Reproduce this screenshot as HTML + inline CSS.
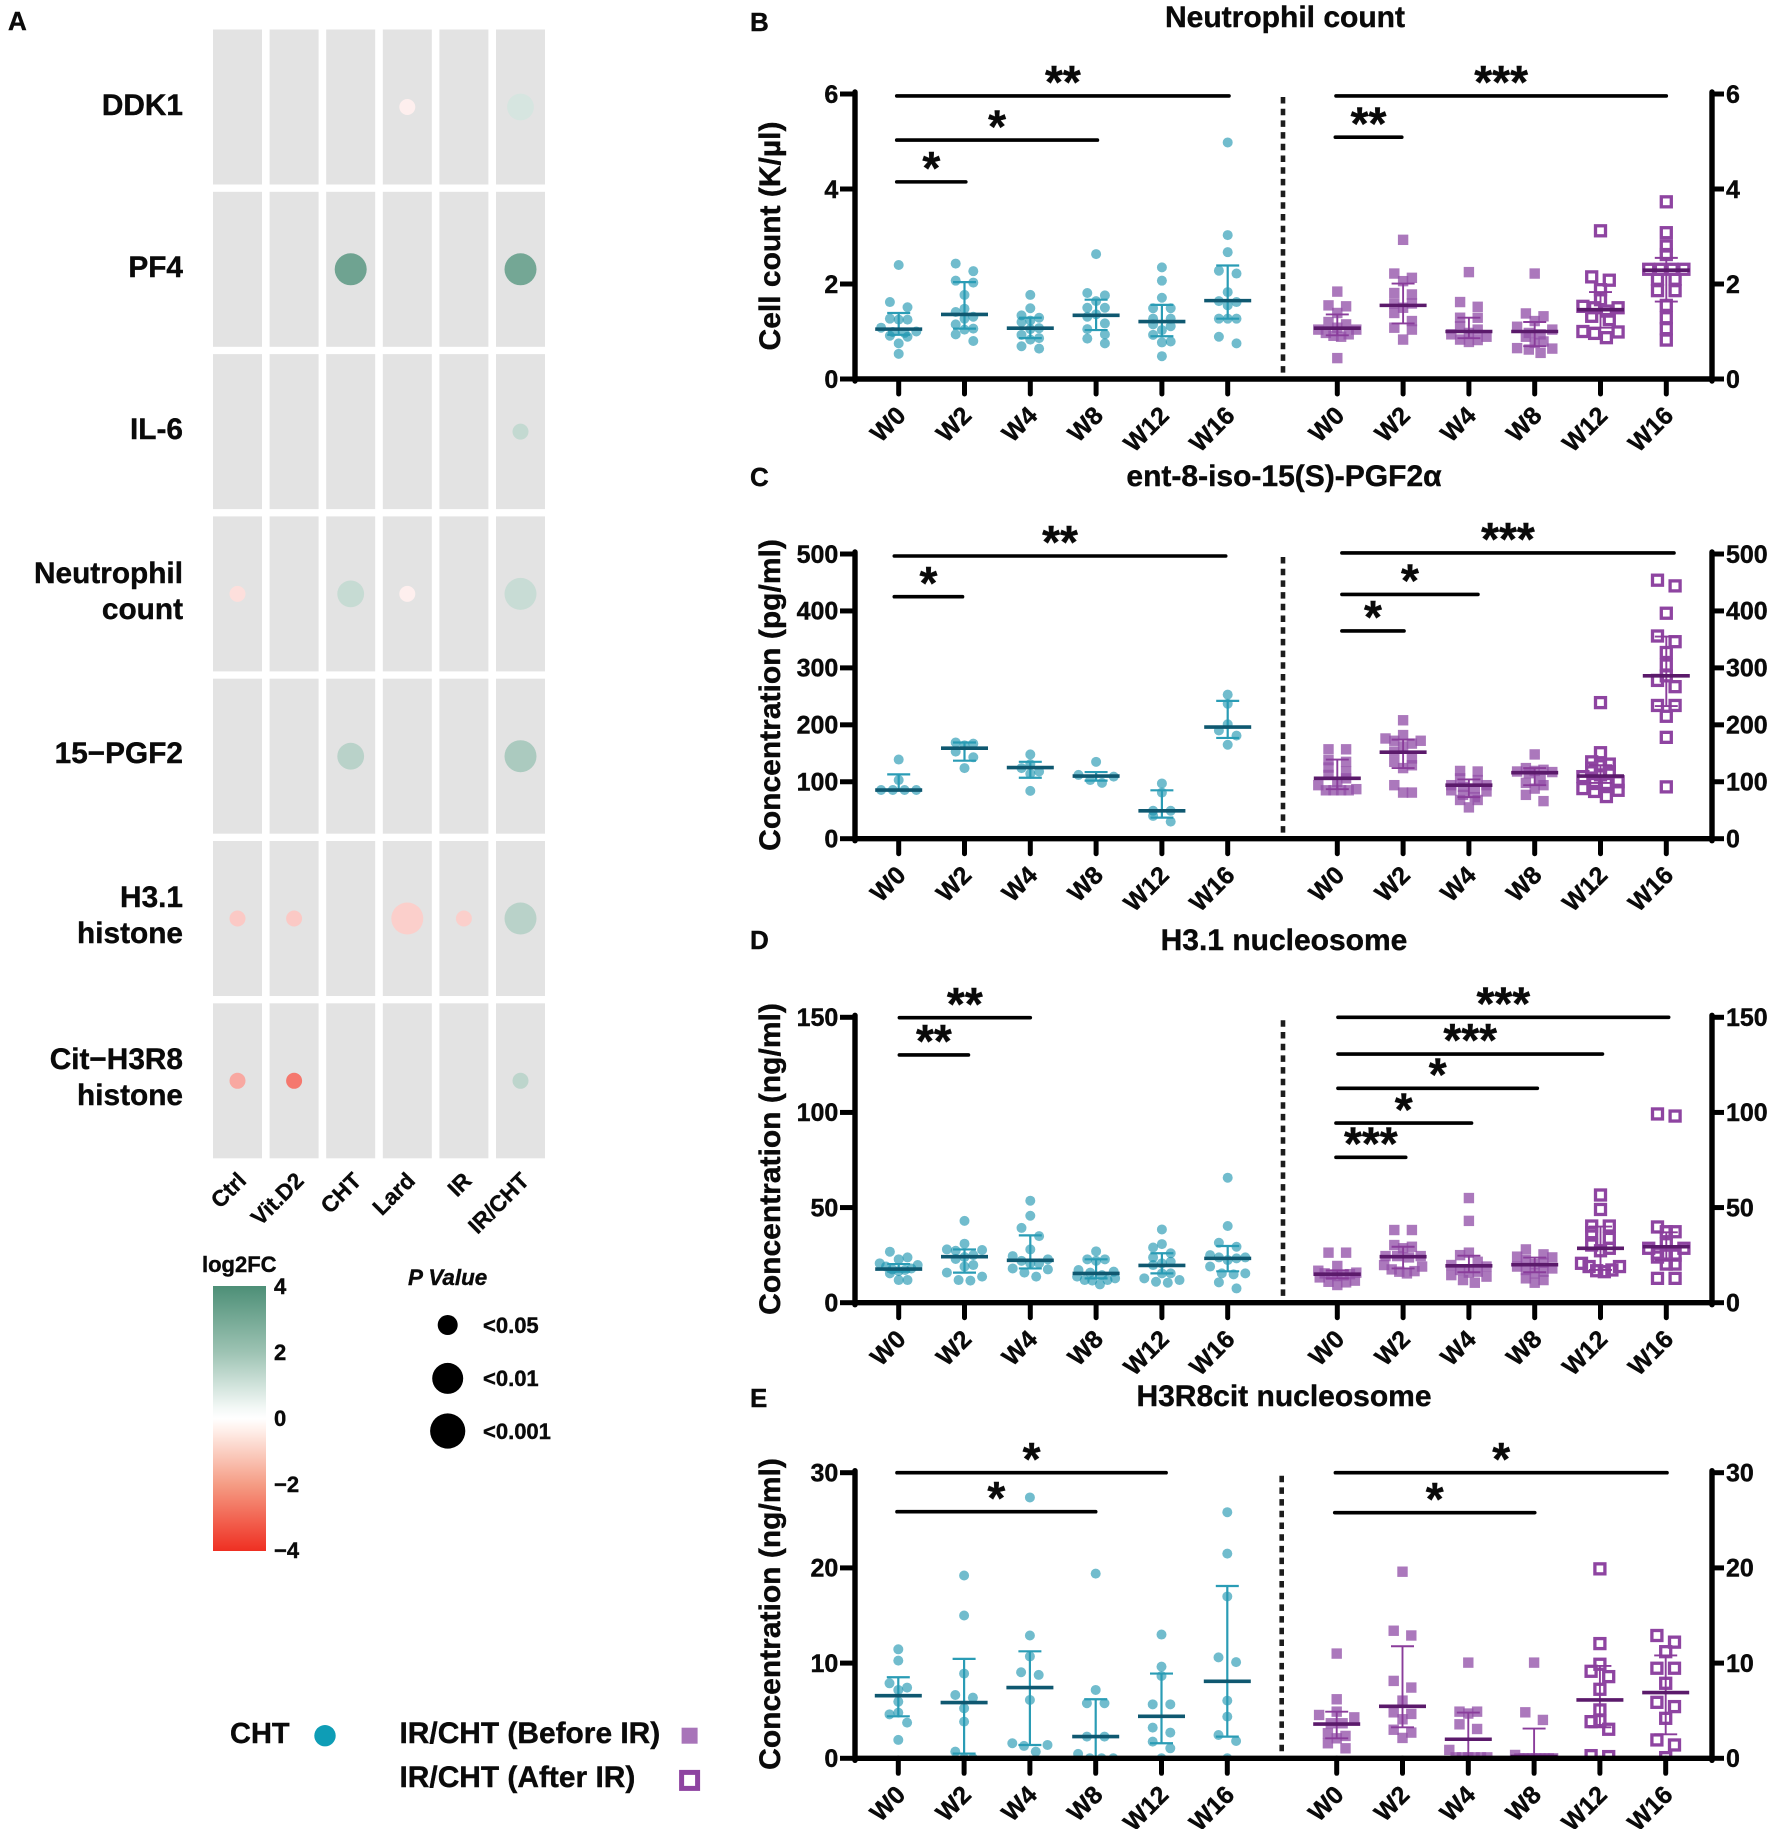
<!DOCTYPE html>
<html lang="en">
<head>
<meta charset="utf-8">
<title>Biomarker dot matrix and time-course panels</title>
<style>
html,body{margin:0;padding:0;background:#fff;}
svg{display:block;}
text{font-family:"Liberation Sans",sans-serif;font-weight:700;fill:#0a0a0a;stroke:#0a0a0a;stroke-width:0.4;}
</style>
</head>
<body>
<svg id="figure" xmlns="http://www.w3.org/2000/svg" width="1772" height="1829" viewBox="0 0 1772 1829">
  <defs>
    <linearGradient id="fcGradient" x1="0" y1="0" x2="0" y2="1">
      <stop offset="0" stop-color="#4d8f77"/>
      <stop offset="0.25" stop-color="#9dc3b3"/>
      <stop offset="0.46" stop-color="#f3f8f6"/>
      <stop offset="0.5" stop-color="#ffffff"/>
      <stop offset="0.54" stop-color="#fff1ec"/>
      <stop offset="0.75" stop-color="#f59c84"/>
      <stop offset="1" stop-color="#ef2f22"/>
    </linearGradient>
  </defs>
  <rect x="0" y="0" width="1772" height="1829" fill="#ffffff"/>

  <text x="8" y="30" font-size="26">A</text>
  <text x="750" y="31" font-size="26">B</text>
  <text x="750" y="486" font-size="26">C</text>
  <text x="750" y="949" font-size="26">D</text>
  <text x="750" y="1407" font-size="26">E</text>

  <g id="heatmap"></g>

  <g font-size="29.8" text-anchor="end">
    <text x="183" y="115" text-anchor="end">DDK1</text>
    <text x="183" y="277" text-anchor="end">PF4</text>
    <text x="183" y="439" text-anchor="end">IL-6</text>
    <text x="183" y="583" text-anchor="end">Neutrophil</text>
    <text x="183" y="619" text-anchor="end">count</text>
    <text x="183" y="763" text-anchor="end">15−PGF2</text>
    <text x="183" y="907" text-anchor="end">H3.1</text>
    <text x="183" y="943" text-anchor="end">histone</text>
    <text x="183" y="1069" text-anchor="end">Cit−H3R8</text>
    <text x="183" y="1105" text-anchor="end">histone</text>
  </g>

  <text x="202" y="1272" font-size="22">log2FC</text>
  <rect x="213" y="1286" width="53" height="265" fill="url(#fcGradient)"/>
  <g font-size="22">
    <text x="274" y="1294">4</text>
    <text x="274" y="1360">2</text>
    <text x="274" y="1426">0</text>
    <text x="274" y="1492">−2</text>
    <text x="274" y="1558">−4</text>
  </g>

  <text x="408" y="1285" font-size="22.4" font-style="italic">P Value</text>
  <circle cx="447.7" cy="1325" r="10" fill="#000"/>
  <circle cx="447.7" cy="1378.4" r="15.5" fill="#000"/>
  <circle cx="447.7" cy="1431" r="17.6" fill="#000"/>
  <text x="483" y="1333" font-size="22">&lt;0.05</text>
  <text x="483" y="1386" font-size="22">&lt;0.01</text>
  <text x="483" y="1439" font-size="22">&lt;0.001</text>

  <text x="230" y="1743" font-size="29">CHT</text>
  <circle cx="325" cy="1735.7" r="10.7" fill="#0e9db6"/>
  <text x="399.5" y="1743" font-size="29.9">IR/CHT (Before IR)</text>
  <rect x="681.6" y="1727.7" width="16" height="16" fill="#a874b9"/>
  <text x="399.5" y="1787" font-size="29.9">IR/CHT (After IR)</text>
  <rect x="681.6" y="1772.4" width="16" height="16" fill="none" stroke="#8e44a1" stroke-width="5"/>

  <text x="1285" y="27" font-size="30" text-anchor="middle">Neutrophil count</text>
  <text x="1284" y="486" font-size="30" text-anchor="middle">ent-8-iso-15(S)-PGF2α</text>
  <text x="1284" y="950" font-size="30" text-anchor="middle">H3.1 nucleosome</text>
  <text x="1284" y="1406" font-size="30" text-anchor="middle">H3R8cit nucleosome</text>

  <text transform="translate(780 236) rotate(-90)" font-size="30" text-anchor="middle">Cell count (K/µl)</text>
  <text transform="translate(780 695) rotate(-90)" font-size="30" text-anchor="middle">Concentration (pg/ml)</text>
  <text transform="translate(780 1159) rotate(-90)" font-size="30" text-anchor="middle">Concentration (ng/ml)</text>
  <text transform="translate(780 1614) rotate(-90)" font-size="30" text-anchor="middle">Concentration (ng/ml)</text>

  <g id="panels"></g>
</svg>

<script>
// ---------- Panel A data ----------
const matrixGenes = ['DDK1', 'PF4', 'IL-6', 'Neutrophil count', '15-PGF2', 'H3.1 histone', 'Cit-H3R8 histone'];
const matrixGroups = ['Ctrl', 'Vit.D2', 'CHT', 'Lard', 'IR', 'IR/CHT'];
const matrixLog2fc = [
  [null, null, null, -0.31, null, 0.93],
  [null, null, 3.27, null, null, 3.15],
  [null, null, null, null, null, 1.36],
  [-0.62, null, 1.3, -0.3, null, 1.25],
  [null, null, 1.6, null, null, 1.9],
  [-1.04, -1.04, null, -0.93, -0.93, 1.6],
  [-1.68, -2.6, null, null, null, 1.5]
];
const matrixPLevel = [
  [0, 0, 0, 1, 0, 2],
  [0, 0, 3, 0, 0, 3],
  [0, 0, 0, 0, 0, 1],
  [1, 0, 2, 1, 0, 3],
  [0, 0, 2, 0, 0, 3],
  [1, 1, 0, 3, 1, 3],
  [1, 1, 0, 0, 0, 1]
];

// ---------- Shared categories ----------
const weeks = ['W0', 'W2', 'W4', 'W8', 'W12', 'W16'];

// ---------- Panel B: neutrophil count ----------
const neutrophilTicks = [0, 2, 4, 6];
const neutrophilCht = [
  [2.40, 1.62, 1.51, 1.27, 1.25, 1.25, 1.08, 1.0, 0.99, 0.97, 0.91, 0.89, 0.75, 0.53],
  [2.43, 2.27, 2.07, 2.03, 1.77, 1.48, 1.41, 1.31, 1.27, 1.15, 1.06, 1.04, 0.94, 0.80],
  [1.77, 1.49, 1.34, 1.29, 1.23, 1.2, 1.07, 1.05, 0.93, 0.86, 0.83, 0.69, 0.64],
  [2.63, 1.81, 1.76, 1.64, 1.5, 1.5, 1.36, 1.31, 1.17, 1.05, 0.94, 0.85, 0.75],
  [2.35, 2.07, 1.71, 1.49, 1.49, 1.27, 1.27, 1.15, 1.11, 1.03, 0.93, 0.79, 0.77, 0.48],
  [4.98, 3.03, 2.67, 2.28, 2.22, 1.83, 1.64, 1.62, 1.55, 1.27, 1.27, 1.27, 0.89, 0.75]
];
const neutrophilChtMedian = [1.05, 1.36, 1.07, 1.34, 1.21, 1.65];
const neutrophilChtLower = [0.93, 1.06, 0.86, 1.03, 0.90, 1.27];
const neutrophilChtUpper = [1.39, 2.04, 1.29, 1.67, 1.56, 2.39];
const neutrophilChtSig = [[-0.03, 5.02, 5.96, '**'], [-0.03, 3.02, 5.03, '*'], [-0.03, 1.02, 4.15, '*']];
const neutrophilIr = [
  [1.84, 1.55, 1.53, 1.39, 1.2, 1.15, 1.08, 1.04, 1.04, 0.97, 0.94, 0.91, 0.89, 0.44],
  [2.93, 2.22, 2.13, 2.06, 1.81, 1.78, 1.59, 1.59, 1.5, 1.39, 1.22, 1.08, 1.04, 0.83],
  [2.25, 1.62, 1.52, 1.29, 1.29, 1.11, 1.04, 0.97, 0.94, 0.89, 0.83, 0.82, 0.78],
  [2.22, 1.38, 1.32, 1.22, 1.10, 1.04, 0.97, 0.94, 0.89, 0.79, 0.76, 0.65, 0.64, 0.62, 0.55],
  [3.12, 2.15, 2.08, 1.88, 1.67, 1.53, 1.5, 1.5, 1.43, 1.32, 1.25, 1.0, 0.99, 0.96, 0.87],
  [3.73, 3.08, 2.8, 2.62, 2.31, 2.31, 2.31, 2.31, 2.1, 2.1, 1.86, 1.86, 1.55, 1.29, 1.06, 0.82]
];
const neutrophilIrMedian = [1.07, 1.55, 1.0, 1.0, 1.46, 2.29];
const neutrophilIrLower = [0.92, 1.17, 0.86, 0.69, 1.08, 1.63];
const neutrophilIrUpper = [1.36, 2.01, 1.29, 1.2, 1.83, 2.55];
const neutrophilIrSig = [[-0.02, 5.0, 5.96, '***'], [-0.03, 0.98, 5.09, '**']];

// ---------- Panel C: ent-8-iso-15(S)-PGF2a ----------
const pgfTicks = [0, 100, 200, 300, 400, 500];
const pgfCht = [
  [139, 103, 85.5, 85.5, 85.5, 85.5],
  [169, 167, 164, 153, 143, 124],
  [148, 131, 124, 118, 114, 84],
  [135, 112, 109, 103, 98],
  [97, 81, 49, 49, 40, 30],
  [253, 237, 201, 190, 181, 165]
];
const pgfChtMedian = [85.5, 159, 125, 110, 49, 196];
const pgfChtLower = [85, 137, 107, 102, 37, 177];
const pgfChtUpper = [113, 169, 135, 117, 85, 242];
const pgfChtSig = [[-0.067, 4.97, 496.5, '**'], [-0.067, 0.97, 425, '*']];
const pgfIr = [
  [157, 157, 138, 135, 125, 118, 112, 106, 100, 94, 87, 85, 85, 85, 85],
  [208, 182, 176, 172, 172, 167, 162, 153, 141, 135, 129, 124, 94, 81, 81],
  [119, 118, 106, 103, 94, 94, 91, 88, 85, 83, 77, 73, 68, 68, 55],
  [148, 124, 121, 119, 118, 117, 115, 104, 98, 94, 88, 77, 66],
  [239, 151, 135, 131, 128, 124, 118, 112, 109, 100, 97, 97, 88, 85, 83, 74],
  [454, 444, 396, 356, 346, 327, 305, 286, 278, 267, 234, 234, 215, 178, 91]
];
const pgfIrMedian = [106, 152, 94, 116, 110, 286];
const pgfIrLower = [87, 124, 73, 94, 98, 233];
const pgfIrUpper = [139, 174, 104, 124, 129, 355];
const pgfIrSig = [[0.07, 5.117, 501.8, '***'], [0.07, 2.138, 429, '*'], [0.07, 1.014, 364.8, '*']];

// ---------- Panel D: H3.1 nucleosome ----------
const h31Ticks = [0, 50, 100, 150];
const h31Cht = [
  [26.8, 23.8, 22.8, 20.7, 19.8, 19, 18, 17.5, 17.2, 16.6, 15.4, 11.9, 11.9],
  [43, 31, 28, 27.7, 27.3, 25, 24, 23, 19.8, 19, 15.8, 13.7, 11.9, 11.6],
  [53.6, 45.7, 39.3, 35, 28, 24.5, 22.8, 22, 20.7, 20.7, 18, 17.5, 15.8, 13.7],
  [27, 22.8, 22.8, 22, 17.2, 16.3, 15.8, 14.5, 13.7, 12.8, 11.9, 11.9, 11.6, 9.6],
  [38.5, 30.8, 29, 26, 23.8, 21.5, 20.7, 19.8, 15.4, 15.4, 12.8, 11.9, 11, 10.5],
  [65.7, 40.3, 31.5, 29.4, 25, 23.8, 23.8, 23.3, 22.4, 19, 15.4, 15.4, 14.9, 10.7, 7.5]
];
const h31ChtMedian = [17.7, 24.2, 22.3, 15.4, 19.6, 23.3];
const h31ChtLower = [16.3, 15.8, 18, 12.8, 15.4, 16.5];
const h31ChtUpper = [20.3, 28, 35.4, 22.8, 26, 29.8];
const h31ChtSig = [[0.01, 2.0, 149.8, '**'], [0.01, 1.06, 130.2, '**']];
const h31Ir = [
  [26.3, 26.3, 19.3, 16.8, 15.8, 15.4, 15, 14.7, 14.4, 14, 13.3, 11.6, 11, 10.7, 9.3],
  [38.2, 38.2, 30.3, 29.4, 28.6, 24.5, 24.5, 24.5, 23.8, 19.8, 19, 17.5, 16.6, 16.3, 15.4],
  [55, 43, 26.3, 25, 21.5, 19.8, 19, 17.2, 16.3, 15.8, 14.5, 13.7, 11.9, 10.5],
  [28, 25.4, 24.2, 23.8, 22.4, 21, 20.3, 19, 18, 17.2, 16.3, 15.4, 12.8, 11.9, 10.5],
  [56.6, 49, 40.3, 40.3, 36.8, 33.8, 30.3, 28.6, 27.3, 20.7, 19, 19, 17.2, 16.8, 16.3],
  [99.2, 98.1, 39.8, 37.3, 37.3, 31, 28.6, 28.6, 26, 25, 25, 24, 20.3, 20.3, 12.8, 12.8]
];
const h31IrMedian = [15, 24.2, 19.4, 20, 28.6, 29.4];
const h31IrLower = [12.8, 18, 16, 16, 17.2, 22.4];
const h31IrUpper = [17, 29.4, 24.7, 23.7, 40, 37];
const h31IrSig = [[0.01, 5.036, 150, '***'], [0.01, 4.03, 130.7, '***'], [0.01, 3.04, 112.7, '*'], [-0.02, 2.04, 94.4, '*'], [-0.02, 1.04, 76.4, '***']];

// ---------- Panel E: H3R8cit nucleosome ----------
const citTicks = [0, 10, 20, 30];
const citCht = [
  [11.45, 10.26, 7.88, 7.43, 7.18, 5.95, 4.8, 4.62, 3.75, 1.93],
  [19.2, 15, 8.9, 6.65, 6.37, 5.25, 3.85, 0.7, 0, 0],
  [27.4, 12.9, 10.7, 9.04, 8.76, 6.13, 1.58, 1.4, 1.3, 0.7],
  [19.4, 7.18, 5.78, 5.78, 2.28, 2.28, 0.46, 0, 0, 0],
  [13, 9.63, 8.65, 5.67, 5.67, 3.22, 2.7, 1.75, 1.05, 0],
  [25.85, 21.5, 17, 10.6, 10.1, 6.06, 4.38, 2.45, 1.82, 0]
];
const citChtMedian = [6.58, 5.85, 7.43, 2.28, 4.41, 8.09];
const citChtLower = [4.41, 0.5, 1.4, 0.05, 1.58, 2.28];
const citChtUpper = [8.51, 10.44, 11.24, 6.2, 8.9, 18.1];
const citChtSig = [[-0.02, 4.07, 30, '*'], [-0.02, 3.0, 25.9, '*']];
const citIr = [
  [11, 6.2, 4.9, 4.55, 4.3, 3.68, 3.68, 2.63, 2.35, 2.1, 1.58, 1.05],
  [19.6, 13.4, 12.9, 8.13, 7.43, 6.06, 4.83, 4.66, 4.1, 3, 2.7, 2.14],
  [10.05, 4.9, 4.9, 4.7, 3.57, 3.08, 0.88, 0.1, 0.1, 0.1, 0.1, 0.1, 0.1],
  [10.05, 4.83, 4.03, 0.35, 0, 0, 0, 0, 0, 0, 0, 0, 0],
  [19.9, 12.05, 9.88, 9.14, 8.58, 7.25, 5.08, 3.96, 3.85, 3.05, 0.28, 0.18],
  [12.9, 12.2, 11.2, 9.46, 9.46, 7.88, 5.88, 5.43, 4.2, 1.93, 1.4, 0.07]
];
const citIrMedian = [3.6, 5.46, 2, 0.18, 6.13, 6.9];
const citIrLower = [2.1, 3.26, 0.05, 0.03, 3.26, 2.52];
const citIrUpper = [4.9, 11.77, 4.8, 3.12, 9.7, 10.8];
const citIrSig = [[-0.02, 5.02, 30, '*'], [-0.03, 3.01, 25.8, '*']];

// ---------- Rendering ----------
const NS = 'http://www.w3.org/2000/svg';
function make(tag, attrs, parent) {
  const el = document.createElementNS(NS, tag);
  for (const k in attrs) el.setAttribute(k, attrs[k]);
  parent.appendChild(el);
  return el;
}

// Panel A axes
const matrixRoot = document.getElementById('heatmap');
const colX = i => 213 + i * 56.6;
const rowY = j => 29.5 + j * 162.3;
const CELL_W = 49, CELL_H = 155;
const pRadius = [0, 8, 13.4, 16];
function fcColor(v) {
  const t = Math.min(1, Math.abs(v) / 4);
  const end = v >= 0 ? [79, 143, 120] : [239, 48, 32];
  const c = end.map(e => Math.round(255 + (e - 255) * t));
  return 'rgb(' + c.join(',') + ')';
}
matrixGenes.forEach((gene, j) => {
  matrixGroups.forEach((group, i) => {
    const cell = make('rect', {x: colX(i), y: rowY(j), width: CELL_W, height: CELL_H, fill: '#e3e3e3'}, matrixRoot);
    
    
    const fc = matrixLog2fc[j][i];
    if (fc !== null) {
      const dot = make('circle', {cx: colX(i) + CELL_W / 2, cy: rowY(j) + CELL_H / 2, r: pRadius[matrixPLevel[j][i]], fill: fcColor(fc)}, matrixRoot);
      
      
    }
  });
});
matrixGroups.forEach((group, i) => {
  const ex = colX(i) + CELL_W / 2 + [10, 11, 12, 9, 9, 10][i];
  const ey = 1182;
  const label = make('text', {transform: 'translate(' + ex + ' ' + ey + ') rotate(-45)', 'font-size': 22.5, 'text-anchor': 'end'}, matrixRoot);
  
  
  label.textContent = group;
});

// Beeswarm offsets computed from the values
function swarm(values, toPx, unit) {
  const sorted = values.slice().sort((a, b) => a - b);
  const out = [];
  let i = 0;
  while (i < sorted.length) {
    const start = toPx(sorted[i]);
    let n = 1;
    while (i + n < sorted.length && start - toPx(sorted[i + n]) < 8.5) n++;
    const base = [];
    if (n % 2) {
      base.push(0);
      for (let k = 1; k <= (n - 1) / 2; k++) base.push(k, -k);
    } else if (n === 2) {
      base.push(1, -1);
    } else {
      for (let k = 0; k < n / 2; k++) base.push(0.67 + k * 1.33, -(0.67 + k * 1.33));
    }
    const widest = Math.max.apply(null, base.map(Math.abs)) * unit;
    const shrink = widest > 19 ? 19 / widest : 1;
    for (let k = 0; k < n; k++) out.push({v: sorted[i + k], dx: base[k] * unit * shrink});
    i += n;
  }
  return out;
}

const COL_STEP = 65.8, AXIS_L = 855, AXIS_R = 1712;
const OPEN_FROM = 4;

function drawPanel(cfg) {
  const root = make('g', {}, document.getElementById('panels'));
  
  
  const y = v => cfg.zero - (v / cfg.ticks[cfg.ticks.length - 1]) * (cfg.zero - cfg.top);
  const xL = i => cfg.leftStart + i * COL_STEP;
  const xR = i => cfg.rightStart + i * COL_STEP;

  const clip = make('clipPath', {id: cfg.name + '-clip'}, root);
  
  
  const clipRect = make('rect', {x: AXIS_L, y: 0, width: AXIS_R - AXIS_L, height: cfg.zero}, clip);
  
  

  const marks = make('g', {'clip-path': 'url(#' + cfg.name + '-clip)'}, root);
  
  

  // Points
  cfg.cht.forEach((vals, i) => {
    swarm(vals, y, 8.8).forEach(p => {
      const dot = make('circle', {cx: xL(i) + p.dx, cy: y(p.v), r: 5.0, fill: '#1390ac', 'fill-opacity': 0.6}, marks);
      
      
    });
  });
  cfg.ir.forEach((vals, i) => {
    const open = i >= OPEN_FROM;
    swarm(vals, y, 8.8).forEach(p => {
      if (open) {
        const sq = make('rect', {x: xR(i) + p.dx - 5, y: y(p.v) - 5, width: 10, height: 10, fill: 'none', stroke: '#8e44a1', 'stroke-width': 3.3}, marks);
        
        
      } else {
        const sq = make('rect', {x: xR(i) + p.dx - 5.2, y: y(p.v) - 5.2, width: 10.4, height: 10.4, fill: '#9352a9', 'fill-opacity': 0.78}, marks);
        
        
      }
    });
  });

  // Error bars and medians
  function summary(x, med, lo, hi, color, medColor, w, label) {
    const pieces = [[x, y(lo), x, y(hi)], [x - 11.5, y(hi), x + 11.5, y(hi)], [x - 11.5, y(lo), x + 11.5, y(lo)]];
    pieces.forEach(s => {
      const bar = make('line', {x1: s[0], y1: s[1], x2: s[2], y2: s[3], stroke: color, 'stroke-width': w}, marks);
      
      
    });
    const m = make('line', {x1: x - 23.5, y1: y(med), x2: x + 23.5, y2: y(med), stroke: medColor, 'stroke-width': 3.6}, marks);
    
    
  }
  weeks.forEach((w, i) => {
    summary(xL(i), cfg.chtMed[i], cfg.chtLo[i], cfg.chtHi[i], '#2a9cb5', '#0f5870', 2.2, 'cht');
    summary(xR(i), cfg.irMed[i], cfg.irLo[i], cfg.irHi[i], '#8a3d9b', '#5b1a6b', 1.9, 'ir-cht');
  });

  // Significance bars
  function sig(list, xFn, side) {
    list.forEach(s => {
      const xa = xFn(s[0]), xb = xFn(s[1]), yy = y(s[2]);
      const bar = make('line', {x1: xa, y1: yy, x2: xb, y2: yy, stroke: '#000', 'stroke-width': 3.6, 'stroke-linecap': 'round'}, root);
      
      
      const star = make('text', {x: (xa + xb) / 2, y: yy + 2.2, 'font-size': 46, 'text-anchor': 'middle'}, root);
      
      
      star.textContent = s[3];
    });
  }
  sig(cfg.chtSig, xL, 'cht');
  sig(cfg.irSig, xR, 'ir-cht');

  // Divider
  const divider = make('line', {x1: cfg.divider, y1: cfg.top + 3, x2: cfg.divider, y2: cfg.zero - 2, stroke: '#1c1c1c', 'stroke-width': 4.6, 'stroke-dasharray': '6.5 5.2'}, root);
  
  

  // Axes
  const axes = [[AXIS_L, cfg.top - 2, AXIS_L, cfg.zero + 2], [AXIS_R, cfg.top - 2, AXIS_R, cfg.zero + 2], [AXIS_L, cfg.zero, AXIS_R, cfg.zero]];
  const axisNames = ['left-y-axis', 'right-y-axis', 'x-axis'];
  axes.forEach((a, k) => {
    const line = make('line', {x1: a[0], y1: a[1], x2: a[2], y2: a[3], stroke: '#000', 'stroke-width': 5.4, 'stroke-linecap': 'round'}, root);
    
    
  });
  cfg.ticks.forEach(t => {
    const lt = make('line', {x1: 840, y1: y(t), x2: AXIS_L, y2: y(t), stroke: '#000', 'stroke-width': 5}, root);
    
    
    const rt = make('line', {x1: AXIS_R, y1: y(t), x2: 1724, y2: y(t), stroke: '#000', 'stroke-width': 5}, root);
    
    
    const ll = make('text', {x: 838.3, y: y(t) + 8.8, 'font-size': 25, 'text-anchor': 'end'}, root);
    
    
    ll.textContent = t;
    const rl = make('text', {x: 1726, y: y(t) + 8.8, 'font-size': 25}, root);
    
    
    rl.textContent = t;
  });
  [xL, xR].forEach(xFn => {
    weeks.forEach((w, i) => {
      const tick = make('line', {x1: xFn(i), y1: cfg.zero, x2: xFn(i), y2: cfg.zero + 15, stroke: '#000', 'stroke-width': 5, 'stroke-linecap': 'round'}, root);
      
      
      const lab = make('text', {transform: 'translate(' + (xFn(i) + 8.5) + ' ' + (cfg.zero + 38) + ') rotate(-45)', 'font-size': 25, 'text-anchor': 'end'}, root);
      
      
      lab.textContent = w;
    });
  });
}

drawPanel({name: 'neutrophil', zero: 379, top: 94, divider: 1283, leftStart: 898.7, rightStart: 1337.3, ticks: neutrophilTicks,
  cht: neutrophilCht, chtMed: neutrophilChtMedian, chtLo: neutrophilChtLower, chtHi: neutrophilChtUpper, chtSig: neutrophilChtSig,
  ir: neutrophilIr, irMed: neutrophilIrMedian, irLo: neutrophilIrLower, irHi: neutrophilIrUpper, irSig: neutrophilIrSig});
drawPanel({name: 'pgf2', zero: 838.7, top: 554, divider: 1283, leftStart: 898.7, rightStart: 1337.3, ticks: pgfTicks,
  cht: pgfCht, chtMed: pgfChtMedian, chtLo: pgfChtLower, chtHi: pgfChtUpper, chtSig: pgfChtSig,
  ir: pgfIr, irMed: pgfIrMedian, irLo: pgfIrLower, irHi: pgfIrUpper, irSig: pgfIrSig});
drawPanel({name: 'h31', zero: 1302.7, top: 1017.3, divider: 1283, leftStart: 898.7, rightStart: 1337.3, ticks: h31Ticks,
  cht: h31Cht, chtMed: h31ChtMedian, chtLo: h31ChtLower, chtHi: h31ChtUpper, chtSig: h31ChtSig,
  ir: h31Ir, irMed: h31IrMedian, irLo: h31IrLower, irHi: h31IrUpper, irSig: h31IrSig});
drawPanel({name: 'h3r8cit', zero: 1758.3, top: 1472.7, divider: 1281.7, leftStart: 898.3, rightStart: 1336.7, ticks: citTicks,
  cht: citCht, chtMed: citChtMedian, chtLo: citChtLower, chtHi: citChtUpper, chtSig: citChtSig,
  ir: citIr, irMed: citIrMedian, irLo: citIrLower, irHi: citIrUpper, irSig: citIrSig});
</script>
</body>
</html>
